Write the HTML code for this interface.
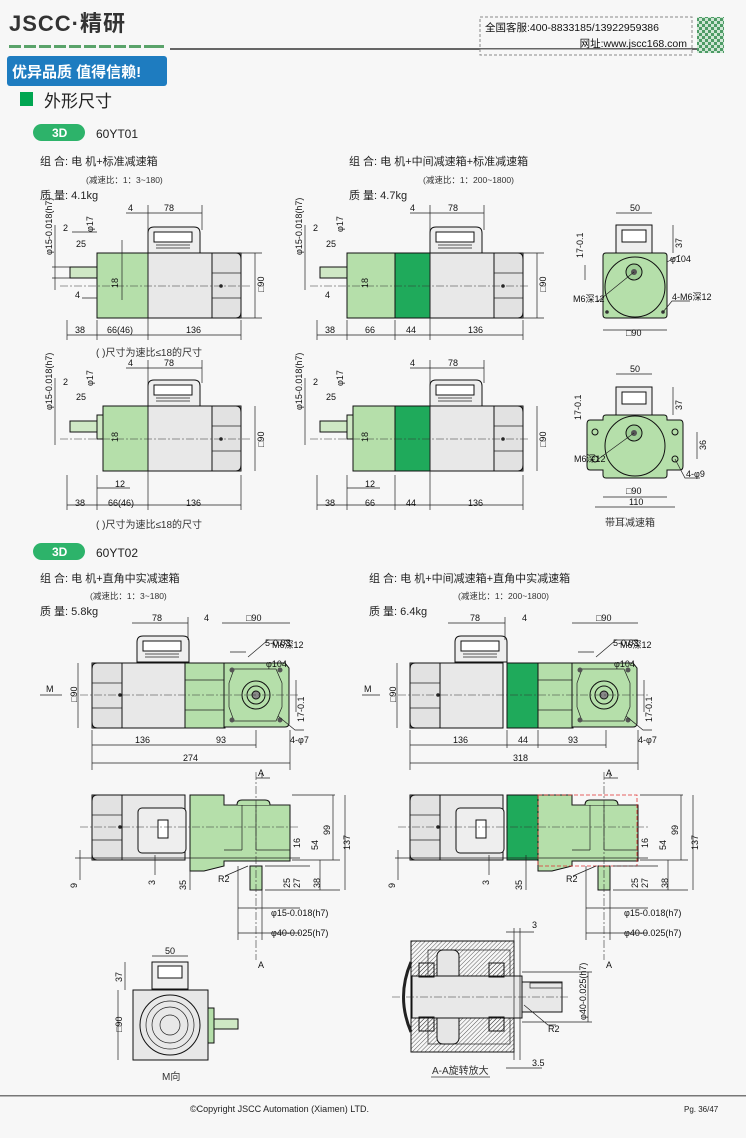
<!DOCTYPE html>
<html><head><meta charset="utf-8"><style>
body{margin:0;background:#f7f7f7;}
svg{display:block;font-family:"Liberation Sans","Noto Sans CJK SC",sans-serif;}
.d{font-family:"Liberation Sans Narrow","Liberation Sans",sans-serif;font-size:9px;fill:#111;}
.t{font-size:11px;fill:#222;}
.s{font-size:8.5px;fill:#333;}
.ln{stroke:#222;stroke-width:0.7;fill:none;}
.ol{stroke:#111;stroke-width:1;}
.cl{stroke:#333;stroke-width:0.6;stroke-dasharray:8 2 2 2;fill:none;}
</style></head><body>
<svg width="746" height="1138" viewBox="0 0 746 1138" xmlns="http://www.w3.org/2000/svg">
<defs>
<pattern id="chk" width="6" height="6" patternUnits="userSpaceOnUse"><rect width="6" height="6" fill="#cfe6d5"/><rect width="3" height="3" fill="#4e9c66"/><rect x="3" y="3" width="3" height="3" fill="#4e9c66"/></pattern>
</defs>
<rect width="746" height="1138" fill="#f7f7f7"/>
<!-- header -->
<text x="9" y="31" font-size="22" font-weight="bold" fill="#333" letter-spacing="1">JSCC·精研</text>
<g fill="#5aa36a"><rect x="9" y="45" width="12" height="3"/><rect x="24" y="45" width="12" height="3"/><rect x="39" y="45" width="12" height="3"/><rect x="54" y="45" width="12" height="3"/><rect x="69" y="45" width="12" height="3"/><rect x="84" y="45" width="12" height="3"/><rect x="99" y="45" width="12" height="3"/><rect x="114" y="45" width="12" height="3"/><rect x="129" y="45" width="12" height="3"/><rect x="144" y="45" width="20" height="3"/></g>
<rect x="170" y="48" width="528" height="2" fill="#666"/>
<rect x="7" y="56" width="160" height="30" rx="3" fill="#1e7cc0"/>
<text x="12" y="77" font-size="15" font-weight="bold" fill="#fff">优异品质 值得信赖!</text>
<rect x="480" y="17" width="212" height="38" fill="#f7f7f7" stroke="#888" stroke-dasharray="3 2"/>
<rect x="480" y="48" width="212" height="1.5" fill="#666"/>
<text x="485" y="31" font-size="10.5" fill="#111">全国客服:400-8833185/13922959386</text>
<text x="687" y="47" font-size="10.5" fill="#111" text-anchor="end">网址:www.jscc168.com</text>
<rect x="697" y="17" width="27" height="36" fill="url(#chk)"/>
<!-- title -->
<rect x="20" y="92" width="13" height="14" fill="#00a651"/>
<text x="44" y="107" font-size="17" fill="#222">外形尺寸</text>
<rect x="33" y="124" width="52" height="17" rx="8.5" fill="#2db36a"/>
<text x="52" y="137" font-size="12" font-weight="bold" fill="#fff">3D</text>
<text x="96" y="138" font-size="12" fill="#222">60YT01</text>
<text x="40" y="165" class="t">组 合: 电 机+标准减速箱</text>
<text x="86" y="183" class="s">(减速比：1：3~180)</text>
<text x="40" y="199" class="t">质 量: 4.1kg</text>
<text x="349" y="165" class="t">组 合: 电 机+中间减速箱+标准减速箱</text>
<text x="423" y="183" class="s">(减速比：1：200~1800)</text>
<text x="349" y="199" class="t">质 量: 4.7kg</text>

<defs>
<g id="tb">
<path d="M2 26 V6 Q2 0 8 0 H48 Q54 0 54 6 V26 Z" fill="#eee" class="ol"/>
<rect x="8" y="5" width="38" height="10" fill="#fff" class="ol"/>
<path d="M10 18 H44 M10 21 H44" class="ln"/>
</g>
<g id="mot">
<rect x="0" y="0" width="93" height="65" fill="#e8e8e8" class="ol"/>
<path d="M64 0 H88 Q93 0 93 6 V59 Q93 65 88 65 H64 Z" fill="#e2e2e2" class="ol"/>
<path d="M64 20 H93 M64 45 H93" class="ln"/>
<circle cx="73" cy="33" r="1.8" fill="#222"/>
</g>
</defs>

<!-- row1 left -->
<g>
<use href="#tb" x="146" y="227"/>
<rect x="70" y="267" width="27" height="11" fill="#cfe8c5" class="ol"/>
<rect x="97" y="253" width="51" height="65" fill="#b5dfaa" class="ol"/>
<use href="#mot" x="148" y="253"/>
<line x1="60" y1="286" x2="250" y2="286" class="cl"/>
<path d="M122 240 V300 M148 205 V340 M202 205 V230 M126 213 H202 M67 335 H241 M67 320 V340 M97 320 V340 M241 320 V340 M255 253 V318 M241 253 H262 M241 318 H262 M55 225 V290 M72 232 H97 M82 298 H97 M52 267 H70 M52 278 H70" class="ln"/>
<text x="164" y="211" class="d">78</text><text x="128" y="211" class="d">4</text>
<text x="75" y="333" class="d">38</text><text x="107" y="333" class="d">66(46)</text><text x="186" y="333" class="d">136</text>
<text x="63" y="231" class="d">2</text><text x="76" y="247" class="d">25</text><text x="75" y="298" class="d">4</text>
<text transform="translate(264,292) rotate(-90)" class="d">□90</text>
<text transform="translate(118,288) rotate(-90)" class="d">18</text>
<text transform="translate(52,255) rotate(-90)" class="d">φ15-0.018(h7)</text>
<text transform="translate(93,232) rotate(-90)" class="d">φ17</text>
</g>
<text x="96" y="356" font-size="10" fill="#333">( )尺寸为速比≤18的尺寸</text>

<!-- row1 middle -->
<g>
<use href="#tb" x="428" y="227"/>
<rect x="320" y="267" width="27" height="11" fill="#cfe8c5" class="ol"/>
<rect x="347" y="253" width="48" height="65" fill="#b5dfaa" class="ol"/>
<rect x="395" y="253" width="35" height="65" fill="#1faa5b" class="ol"/>
<use href="#mot" x="430" y="253"/>
<line x1="310" y1="286" x2="530" y2="286" class="cl"/>
<path d="M430 205 V340 M484 205 V230 M410 213 H484 M317 335 H523 M317 320 V340 M347 320 V340 M395 320 V340 M523 320 V340 M537 253 V318 M523 253 H544 M523 318 H544 M305 225 V290" class="ln"/>
<text x="448" y="211" class="d">78</text><text x="410" y="211" class="d">4</text>
<text x="325" y="333" class="d">38</text><text x="365" y="333" class="d">66</text><text x="406" y="333" class="d">44</text><text x="468" y="333" class="d">136</text>
<text x="313" y="231" class="d">2</text><text x="326" y="247" class="d">25</text><text x="325" y="298" class="d">4</text>
<text transform="translate(546,292) rotate(-90)" class="d">□90</text>
<text transform="translate(368,288) rotate(-90)" class="d">18</text>
<text transform="translate(302,255) rotate(-90)" class="d">φ15-0.018(h7)</text>
<text transform="translate(343,232) rotate(-90)" class="d">φ17</text>
</g>

<!-- row1 right view -->
<g>
<rect x="616" y="225" width="36" height="28" fill="#eee" class="ol"/>
<rect x="622" y="230" width="24" height="12" fill="#fff" class="ol"/>
<path d="M603 256 Q603 253 606 253 H664 Q667 253 667 256 V315 Q667 318 664 318 H606 Q603 318 603 315 Z" fill="#b5dfaa" class="ol"/>
<circle cx="635" cy="287" r="30" fill="none" class="ol"/>
<circle cx="634" cy="272" r="8" fill="#9fcf96" class="ol"/>
<circle cx="634" cy="272" r="3" fill="#555"/>
<circle cx="607" cy="312" r="1.8" fill="#333"/><circle cx="663" cy="312" r="1.8" fill="#333"/>
<path d="M616 213 H652 M603 330 H667 M673 225 V253 M585 265 V280 M597 302 L634 272 M667 262 L680 255 M663 312 L672 301 H690" class="ln"/>
<text x="630" y="211" class="d">50</text><text x="626" y="336" class="d">□90</text>
<text x="670" y="262" class="d">φ104</text><text x="573" y="302" class="d">M6深12</text>
<text x="672" y="300" class="d">4-M6深12</text>
<text transform="translate(682,248) rotate(-90)" class="d">37</text>
<text transform="translate(583,258) rotate(-90)" class="d">17-0.1</text>
</g>

<!-- row2 left -->
<g>
<use href="#tb" x="146" y="380"/>
<rect x="70" y="421" width="27" height="11" fill="#cfe8c5" class="ol"/>
<rect x="97" y="415" width="6" height="24" fill="#cfe8c5" class="ol"/>
<rect x="103" y="406" width="45" height="65" fill="#b5dfaa" class="ol"/>
<use href="#mot" x="148" y="406"/>
<line x1="60" y1="439" x2="250" y2="439" class="cl"/>
<path d="M148 360 V510 M202 360 V383 M126 368 H202 M67 505 H241 M67 475 V510 M97 475 V510 M241 475 V510 M255 406 V471 M55 378 V445 M97 488 H130" class="ln"/>
<text x="164" y="366" class="d">78</text><text x="128" y="366" class="d">4</text>
<text x="75" y="506" class="d">38</text><text x="108" y="506" class="d">66(46)</text><text x="186" y="506" class="d">136</text>
<text x="63" y="385" class="d">2</text><text x="76" y="400" class="d">25</text><text x="115" y="487" class="d">12</text>
<text transform="translate(264,447) rotate(-90)" class="d">□90</text>
<text transform="translate(118,442) rotate(-90)" class="d">18</text>
<text transform="translate(52,410) rotate(-90)" class="d">φ15-0.018(h7)</text>
<text transform="translate(93,386) rotate(-90)" class="d">φ17</text>
</g>
<text x="96" y="528" font-size="10" fill="#333">( )尺寸为速比≤18的尺寸</text>

<!-- row2 middle -->
<g>
<use href="#tb" x="428" y="380"/>
<rect x="320" y="421" width="27" height="11" fill="#cfe8c5" class="ol"/>
<rect x="347" y="415" width="6" height="24" fill="#cfe8c5" class="ol"/>
<rect x="353" y="406" width="42" height="65" fill="#b5dfaa" class="ol"/>
<rect x="395" y="406" width="35" height="65" fill="#1faa5b" class="ol"/>
<use href="#mot" x="430" y="406"/>
<line x1="310" y1="439" x2="530" y2="439" class="cl"/>
<path d="M430 360 V510 M484 360 V383 M410 368 H484 M317 505 H523 M317 475 V510 M347 475 V510 M395 475 V510 M523 475 V510 M537 406 V471 M305 378 V445 M347 488 H380" class="ln"/>
<text x="448" y="366" class="d">78</text><text x="410" y="366" class="d">4</text>
<text x="325" y="506" class="d">38</text><text x="365" y="506" class="d">66</text><text x="406" y="506" class="d">44</text><text x="468" y="506" class="d">136</text>
<text x="313" y="385" class="d">2</text><text x="326" y="400" class="d">25</text><text x="365" y="487" class="d">12</text>
<text transform="translate(546,447) rotate(-90)" class="d">□90</text>
<text transform="translate(368,442) rotate(-90)" class="d">18</text>
<text transform="translate(302,410) rotate(-90)" class="d">φ15-0.018(h7)</text>
<text transform="translate(343,386) rotate(-90)" class="d">φ17</text>
</g>

<!-- row2 right ear view -->
<g>
<rect x="616" y="387" width="36" height="28" fill="#eee" class="ol"/>
<rect x="622" y="392" width="24" height="12" fill="#fff" class="ol"/>
<path d="M603 420 V418 Q603 415 606 415 H664 Q667 415 667 418 V420 H680 Q683 420 683 424 V466 Q683 470 680 470 H667 V475 Q667 478 664 478 H606 Q603 478 603 475 V470 H590 Q587 470 587 466 V424 Q587 420 590 420 Z" fill="#b5dfaa" class="ol"/>
<circle cx="635" cy="446" r="30" fill="none" class="ol"/>
<circle cx="634" cy="433" r="8" fill="#9fcf96" class="ol"/>
<circle cx="634" cy="433" r="3" fill="#555"/>
<circle cx="595" cy="432" r="3" fill="none" class="ol"/><circle cx="675" cy="432" r="3" fill="none" class="ol"/>
<circle cx="595" cy="459" r="3" fill="none" class="ol"/><circle cx="675" cy="459" r="3" fill="none" class="ol"/>
<path d="M616 374 H652 M603 497 H667 M595 507 H675 M673 387 V415 M697 432 V459 M597 460 L634 433 M675 459 L685 478 H700" class="ln"/>
<text x="630" y="372" class="d">50</text><text x="626" y="494" class="d">□90</text><text x="629" y="505" class="d">110</text>
<text x="686" y="477" class="d">4-φ9</text><text x="574" y="462" class="d">M6深12</text>
<text transform="translate(682,410) rotate(-90)" class="d">37</text>
<text transform="translate(706,450) rotate(-90)" class="d">36</text>
<text transform="translate(581,420) rotate(-90)" class="d">17-0.1</text>
</g>
<text x="605" y="526" font-size="10" fill="#333">带耳减速箱</text>

<!-- 60YT02 -->
<rect x="33" y="543" width="52" height="17" rx="8.5" fill="#2db36a"/>
<text x="52" y="556" font-size="12" font-weight="bold" fill="#fff">3D</text>
<text x="96" y="557" font-size="12" fill="#222">60YT02</text>
<text x="40" y="582" class="t">组 合: 电 机+直角中实减速箱</text>
<text x="90" y="599" class="s">(减速比：1：3~180)</text>
<text x="40" y="615" class="t">质 量: 5.8kg</text>
<text x="369" y="582" class="t">组 合: 电 机+中间减速箱+直角中实减速箱</text>
<text x="458" y="599" class="s">(减速比：1：200~1800)</text>
<text x="369" y="615" class="t">质 量: 6.4kg</text>

<defs>
<g id="mot2">
<rect x="0" y="0" width="93" height="65" fill="#e8e8e8" class="ol"/>
<path d="M30 0 H5 Q0 0 0 6 V59 Q0 65 5 65 H30 Z" fill="#e2e2e2" class="ol"/>
<path d="M0 20 H30 M0 45 H30" class="ln"/>
<circle cx="28" cy="32" r="1.8" fill="#222"/>
</g>
<g id="flange">
<path d="M0 0 H61 L65 5 V60 Q65 64 61 64 H0 Z" fill="#b5dfaa" class="ol"/>
<path d="M10 6 H52 L58 20 V44 L52 58 H10 L5 44 V20 Z" fill="none" class="ln"/>
<circle cx="32" cy="32" r="14" fill="none" class="ol"/><circle cx="32" cy="32" r="9" fill="none" class="ol"/><circle cx="32" cy="32" r="4" fill="#888" class="ol"/>
<circle cx="8" cy="7" r="2.5" fill="#555"/><circle cx="56" cy="7" r="2.5" fill="#555"/><circle cx="8" cy="57" r="2.5" fill="#555"/><circle cx="56" cy="57" r="2.5" fill="#555"/>
</g>
<g id="side">
<path d="M0 0 H34 V10 H100 V66 H34 V71 L14 76 H0 Z" fill="#b5dfaa" class="ol"/>
<path d="M34 10 H100 M52 10 V55 M66 10 V55 M34 55 H52 M66 55 H100" class="ln"/>
<path d="M47 10 Q47 5 52 5 H75 Q80 5 80 10" fill="#b5dfaa" class="ol"/>
<rect x="60" y="71" width="12" height="24" fill="#b5dfaa" class="ol"/>
</g>
</defs>

<!-- YT02 left top -->
<g>
<use href="#mot2" x="92" y="663"/>
<g transform="translate(135,636)"><use href="#tb"/></g>
<rect x="185" y="663" width="40" height="65" fill="#b5dfaa" class="ol"/>
<path d="M185 680 H225 M185 710 H225" class="ln"/>
<use href="#flange" x="224" y="663"/>
<line x1="80" y1="695" x2="300" y2="695" class="cl"/>
<path d="M132 623 H188 M188 617 V640 M222 623 H290 M92 745 H190 M190 745 H256 M92 763 H290 M92 730 V770 M290 730 V770 M256 730 V748 M78 663 V728 M40 695 H62 M230 652 H246 M248 657 L268 640 H290 M296 680 V712 M278 716 L295 730 H304" class="ln"/>
<text x="152" y="621" class="d">78</text><text x="204" y="621" class="d">4</text><text x="246" y="621" class="d">□90</text>
<text x="272" y="648" class="d">M6深12</text><text x="266" y="667" class="d">φ104</text><text x="265" y="646" class="d">5-0.03</text>
<text x="46" y="692" class="d">M</text>
<text x="135" y="743" class="d">136</text><text x="216" y="743" class="d">93</text><text x="183" y="761" class="d">274</text>
<text x="290" y="743" class="d">4-φ7</text>
<text transform="translate(77,702) rotate(-90)" class="d">□90</text>
<text transform="translate(304,722) rotate(-90)" class="d">17-0.1</text>
</g>
<!-- YT02 left side -->
<g>
<use href="#mot2" x="92" y="795"/>
<rect x="138" y="808" width="48" height="45" rx="4" fill="#eee" class="ol"/>
<rect x="158" y="820" width="10" height="18" fill="#fff" class="ol"/>
<use href="#side" x="190" y="795"/>
<line x1="80" y1="827" x2="300" y2="827" class="cl"/>
<line x1="256" y1="772" x2="256" y2="960" class="cl"/>
<path d="M256 778 H270 M262 773 V778 M75 858 H300 M80 850 V880 M155 855 V875 M190 855 V890 M292 795 H335 M292 860 H340 M265 866 H310 M265 890 H340 M333 795 V860 M345 795 V890 M320 860 V890 M238 908 H300 M238 933 H300 M238 866 V940 M262 890 V940 M225 876 L248 866" class="ln"/>
<text x="258" y="776" class="d">A</text><text x="258" y="968" class="d">A</text>
<text x="218" y="882" class="d">R2</text>
<text x="271" y="916" class="d">φ15-0.018(h7)</text><text x="271" y="936" class="d">φ40-0.025(h7)</text>
<text transform="translate(77,888) rotate(-90)" class="d">9</text>
<text transform="translate(155,885) rotate(-90)" class="d">3</text>
<text transform="translate(186,890) rotate(-90)" class="d">35</text>
<text transform="translate(300,848) rotate(-90)" class="d">16</text>
<text transform="translate(318,850) rotate(-90)" class="d">54</text>
<text transform="translate(330,835) rotate(-90)" class="d">99</text>
<text transform="translate(350,850) rotate(-90)" class="d">137</text>
<text transform="translate(290,888) rotate(-90)" class="d">25</text>
<text transform="translate(300,888) rotate(-90)" class="d">27</text>
<text transform="translate(320,888) rotate(-90)" class="d">38</text>
</g>
<!-- M view -->
<g>
<rect x="152" y="962" width="36" height="27" fill="#eee" class="ol"/>
<rect x="158" y="966" width="24" height="12" fill="#fff" class="ol"/>
<rect x="133" y="990" width="75" height="70" fill="#e8e8e8" class="ol"/>
<circle cx="170" cy="1025" r="30" fill="none" class="ol"/><circle cx="170" cy="1025" r="24" fill="none" class="ln"/><circle cx="170" cy="1025" r="18" fill="none" class="ln"/><circle cx="170" cy="1025" r="10" fill="none" class="ln"/>
<rect x="208" y="1008" width="6" height="35" fill="#b5dfaa" class="ol"/>
<rect x="214" y="1019" width="24" height="10" fill="#cfe8c5" class="ol"/>
<path d="M152 956 H188 M125 962 V990 M118 990 V1060" class="ln"/>
<text x="165" y="954" class="d">50</text>
<text transform="translate(122,982) rotate(-90)" class="d">37</text>
<text transform="translate(122,1032) rotate(-90)" class="d">□90</text>
</g>
<text x="162" y="1080" font-size="10" fill="#333">M向</text>

<!-- YT02 right top -->
<g>
<use href="#mot2" x="410" y="663"/>
<g transform="translate(453,636)"><use href="#tb"/></g>
<rect x="507" y="663" width="31" height="65" fill="#1faa5b" class="ol"/>
<rect x="538" y="663" width="35" height="65" fill="#b5dfaa" class="ol"/>
<path d="M538 680 H573 M538 710 H573" class="ln"/>
<use href="#flange" x="572" y="663"/>
<line x1="398" y1="695" x2="648" y2="695" class="cl"/>
<path d="M448 623 H505 M505 617 V640 M572 623 H638 M410 745 H606 M410 763 H638 M410 730 V770 M638 730 V770 M507 730 V748 M538 730 V748 M606 730 V748 M397 663 V728 M362 695 H380 M578 652 L594 652 M596 657 L616 640 H638 M644 680 V712 M626 716 L643 730 H652" class="ln"/>
<text x="470" y="621" class="d">78</text><text x="522" y="621" class="d">4</text><text x="596" y="621" class="d">□90</text>
<text x="620" y="648" class="d">M6深12</text><text x="614" y="667" class="d">φ104</text><text x="613" y="646" class="d">5-0.03</text>
<text x="364" y="692" class="d">M</text>
<text x="453" y="743" class="d">136</text><text x="518" y="743" class="d">44</text><text x="568" y="743" class="d">93</text><text x="513" y="761" class="d">318</text>
<text x="638" y="743" class="d">4-φ7</text>
<text transform="translate(396,702) rotate(-90)" class="d">□90</text>
<text transform="translate(652,722) rotate(-90)" class="d">17-0.1</text>
</g>
<!-- YT02 right side -->
<g>
<use href="#mot2" x="410" y="795"/>
<rect x="456" y="808" width="48" height="45" rx="4" fill="#eee" class="ol"/>
<rect x="476" y="820" width="10" height="18" fill="#fff" class="ol"/>
<rect x="507" y="795" width="31" height="65" fill="#1faa5b" class="ol"/>
<use href="#side" x="538" y="795"/>
<rect x="538" y="795" width="99" height="71" fill="none" stroke="#e03030" stroke-width="0.8" stroke-dasharray="4 2"/>
<line x1="398" y1="827" x2="648" y2="827" class="cl"/>
<line x1="604" y1="772" x2="604" y2="960" class="cl"/>
<path d="M604 778 H618 M610 773 V778 M395 858 H648 M398 850 V880 M489 855 V875 M526 855 V890 M640 795 H683 M640 860 H688 M613 866 H658 M613 890 H688 M681 795 V860 M693 795 V890 M668 860 V890 M586 908 H648 M586 933 H648 M586 866 V940 M610 890 V940 M573 876 L596 866" class="ln"/>
<text x="606" y="776" class="d">A</text><text x="606" y="968" class="d">A</text>
<text x="566" y="882" class="d">R2</text>
<text x="624" y="916" class="d">φ15-0.018(h7)</text><text x="624" y="936" class="d">φ40-0.025(h7)</text>
<text transform="translate(395,888) rotate(-90)" class="d">9</text>
<text transform="translate(489,885) rotate(-90)" class="d">3</text>
<text transform="translate(522,890) rotate(-90)" class="d">35</text>
<text transform="translate(648,848) rotate(-90)" class="d">16</text>
<text transform="translate(666,850) rotate(-90)" class="d">54</text>
<text transform="translate(678,835) rotate(-90)" class="d">99</text>
<text transform="translate(698,850) rotate(-90)" class="d">137</text>
<text transform="translate(638,888) rotate(-90)" class="d">25</text>
<text transform="translate(648,888) rotate(-90)" class="d">27</text>
<text transform="translate(668,888) rotate(-90)" class="d">38</text>
</g>

<!-- Section A-A -->
<defs><pattern id="h" width="3" height="3" patternUnits="userSpaceOnUse" patternTransform="rotate(45)"><line x1="0" y1="0" x2="0" y2="3" stroke="#333" stroke-width="0.8"/></pattern></defs>
<g>
<path d="M411 941 H514 V1052 H411 Z" fill="url(#h)" class="ol"/>
<rect x="428" y="950" width="82" height="94" fill="#eee" class="ln"/>
<rect x="437" y="950" width="22" height="94" rx="6" fill="#e6e6e6" class="ol"/>
<rect x="412" y="976" width="110" height="42" fill="#e8e8e8" class="ol"/>
<rect x="522" y="982" width="40" height="30" fill="#e8e8e8" class="ol"/>
<rect x="530" y="983" width="32" height="5" fill="none" class="ln"/>
<rect x="419" y="963" width="15" height="14" fill="url(#h)" class="ol"/><rect x="419" y="1017" width="15" height="14" fill="url(#h)" class="ol"/>
<rect x="489" y="963" width="15" height="14" fill="url(#h)" class="ol"/><rect x="489" y="1017" width="15" height="14" fill="url(#h)" class="ol"/>
<path d="M411 962 Q396 997 411 1032" fill="none" stroke="#222" stroke-width="3"/>
<line x1="392" y1="997" x2="570" y2="997" class="cl"/>
<path d="M514 928 V1060 M520 928 V1060 M506 932 H534 M506 1068 H542 M522 972 H592 M522 1022 H592 M588 972 V1022 M524 1005 L548 1025 H556" class="ln"/>
<text x="532" y="928" class="d">3</text><text x="532" y="1066" class="d">3.5</text><text x="548" y="1032" class="d">R2</text>
<text transform="translate(586,1020) rotate(-90)" class="d">φ40-0.025(h7)</text>
<text x="432" y="1074" font-size="10" fill="#333">A-A旋转放大</text>
<line x1="431" y1="1077" x2="490" y2="1077" stroke="#333" stroke-width="0.8"/>
</g>

<!-- footer -->
<rect x="0" y="1095" width="746" height="1.5" fill="#777"/>
<text x="190" y="1112" font-size="9" fill="#222">©Copyright JSCC Automation (Xiamen) LTD.</text>
<text x="684" y="1112" font-size="8" fill="#222">Pg. 36/47</text>
</svg>
</body></html>
